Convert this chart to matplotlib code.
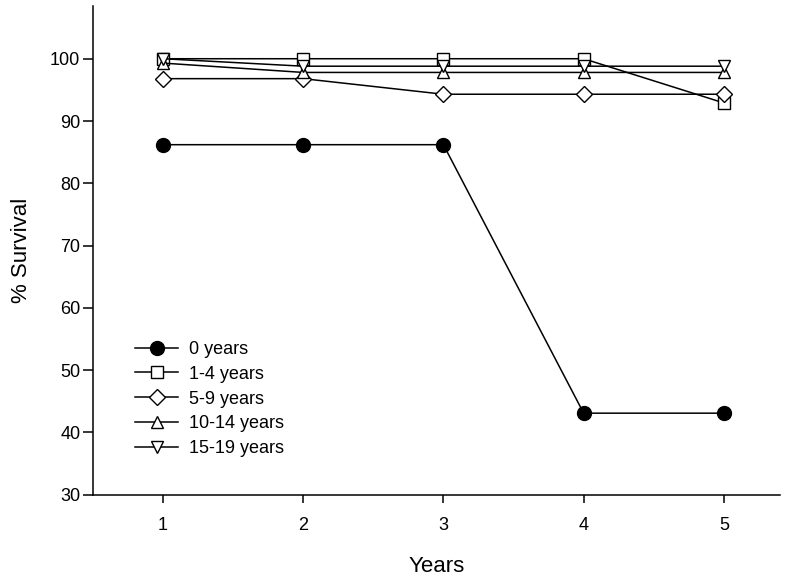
import matplotlib
matplotlib.use("Agg")
import matplotlib.pyplot as plt

plt.rcParams['font.family'] = ['Liberation Sans', 'DejaVu Sans']

# data
years = [1, 2, 3, 4, 5]
age_0 = [86.2, 86.2, 86.2, 43.1, 43.1]
age_1_4 = [100, 100, 100, 100, 92.9]
age_5_9 = [96.8, 96.8, 94.3, 94.3, 94.3]
age_10_14 = [99.3, 97.8, 97.8, 97.8, 97.8]
age_15_19 = [100, 98.8, 98.8, 98.8, 98.8]

fig = plt.figure(figsize=(8, 5.78), dpi=100)
ax = fig.add_axes([0.116, 0.144, 0.859, 0.846])

ax.plot(years, age_0, color="black", lw=1.1, marker="o", ms=10, mfc="black", label="0 years")
ax.plot(years, age_1_4, color="black", lw=1.1, marker="s", ms=8, mfc="white", label="1-4 years")
ax.plot(years, age_5_9, color="black", lw=1.1, marker="D", ms=8, mfc="white", label="5-9 years")
ax.plot(years, age_10_14, color="black", lw=1.1, marker="^", ms=9, mfc="white", label="10-14 years")
ax.plot(years, age_15_19, color="black", lw=1.1, marker="v", ms=9, mfc="white", label="15-19 years")

ax.set_xlim(0.5, 5.4)
ax.set_ylim(30, 108.5)
ax.set_xticks(years)
ax.set_yticks(range(30, 101, 10))
ax.spines["top"].set_visible(False)
ax.spines["right"].set_visible(False)
ax.spines["left"].set_linewidth(1.1)
ax.spines["bottom"].set_linewidth(1.1)
ax.tick_params(direction="out", length=7, width=1.1, labelsize=13)
ax.tick_params(axis="x", length=6, pad=10)
ax.tick_params(axis="y", pad=2)
ax.set_xlabel("Years", fontsize=16, labelpad=16)
ax.set_ylabel("% Survival", fontsize=16, labelpad=13)

ax.legend(loc="upper left", bbox_to_anchor=(135 / 800, 1 - 341 / 578),
          bbox_transform=fig.transFigure, frameon=False, borderpad=0, borderaxespad=0,
          fontsize=13, handlelength=2.4, labelspacing=0.43, handletextpad=0.6)

plt.savefig("out.png", dpi=100)
